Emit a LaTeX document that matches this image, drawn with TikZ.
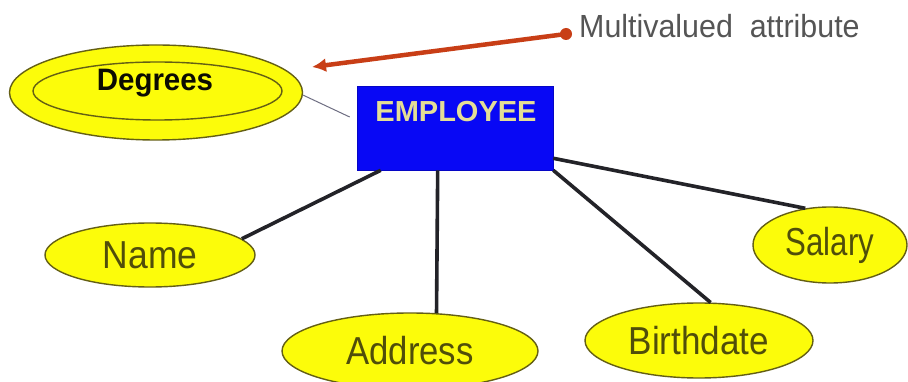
\documentclass[tikz,border=0pt]{standalone}
\usepackage{fontspec}
\setmainfont{Liberation Sans}
\usetikzlibrary{shapes.geometric,arrows.meta}
\definecolor{attrfill}{RGB}{252,252,10}
\definecolor{attredge}{RGB}{100,95,20}
\definecolor{attrtext}{RGB}{80,78,10}
\definecolor{entfill}{RGB}{8,8,245}
\definecolor{enttext}{RGB}{228,222,150}
\definecolor{linkcol}{RGB}{35,35,40}
\definecolor{notecol}{RGB}{200,62,22}
\definecolor{notetext}{RGB}{85,85,85}
\definecolor{thincol}{RGB}{110,110,130}
\tikzset{
  attr/.style={ellipse, draw=attredge, line width=1.4pt, fill=attrfill, inner sep=0pt,
    text=attrtext, font=\fontsize{39}{40}\selectfont},
  link/.style={draw=linkcol, line width=3.6pt},
}
\newcommand{\cond}[2][0.9]{\scalebox{#1}[1]{#2}}
\begin{document}
\begin{tikzpicture}[x=1pt,y=-1pt]
\useasboundingbox (0,0) rectangle (908,382);
\clip (0,0) rectangle (908,382);
\fill[white] (0,0) rectangle (908,382);

% entity
\node[rectangle, fill=entfill, draw=entfill!80!black, line width=0.6pt, minimum width=196pt, minimum height=84pt, inner sep=0pt] (emp) at (455,128) {};
\node[text=enttext, font=\fontsize{29}{30}\selectfont\bfseries, inner sep=0pt] (emptext) at (456,112) {EMPLOYEE};

% multivalued attribute
\node[ellipse, draw=attredge, line width=1.4pt, fill=attrfill, minimum width=293pt, minimum height=95pt, inner sep=0pt] (deg) at (156,92.5) {};
\node[ellipse, draw=attredge, line width=1.4pt, minimum width=249pt, minimum height=58pt, inner sep=0pt] (deginner) at (157.5,91) {};
\node[text=black!85!attrtext, font=\fontsize{31}{32}\selectfont\bfseries, inner sep=0pt] (degtext) at (155,83) {\cond[0.95]{Degrees}};

% attributes
\node[attr, minimum width=210pt, minimum height=64pt] (name) at (150,255) {\cond[0.91]{Name}};
\node[attr, minimum width=256pt, minimum height=76pt] (addr) at (410,351) {\cond[0.89]{Address}};
\node[attr, minimum width=228pt, minimum height=75pt] (birth) at (699,340.5) {\cond[0.9]{Birthdate}};
\node[attr, minimum width=154pt, minimum height=76pt] (sal) at (830,245) {\cond[0.8]{Salary}};

% connectors
\draw[draw=thincol, line width=1pt] (deg.-1) -- ([xshift=-7pt,yshift=11pt]emp.west);
\path[link] ([xshift=24pt]emp.south west) -- (name.10);
\path[link] ([xshift=81pt]emp.south west) -- (addr.55);
\path[link] (emp.south east) -- (birth.73);
\path[link] ([yshift=12pt]emp.south east) -- (sal.124);

% note
\node[circle, fill=notecol, minimum size=12pt, inner sep=0pt] (dot) at (566,34) {};
\coordinate (tip) at (312,67);
\draw[notecol, line width=4.5pt, -{Latex[length=14pt,width=14pt]}] (dot.center) -- (tip);
\node[anchor=west, text=notetext, font=\fontsize{32}{33}\selectfont, inner sep=0pt] (note) at (579,26) {\cond[0.95]{Multivalued\ \ attribute}};
\end{tikzpicture}
\end{document}
